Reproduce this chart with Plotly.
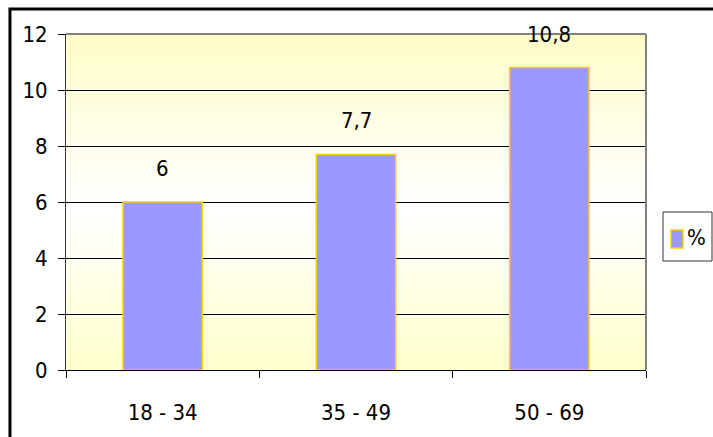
import base64
import plotly.graph_objects as go

# age groups and share (%)
categories = ["18 - 34", "35 - 49", "50 - 69"]
values = [6, 7.7, 10.8]
value_labels = ["6", "7,7", "10,8"]
series_name = "%"
y_ticks = [0, 2, 4, 6, 8, 10, 12]

FONT = "Liberation Sans Narrow, Arial Narrow, DejaVu Sans Condensed, sans-serif"
BAR_FILL = "#9999FF"
BAR_EDGE = "#FFCC00"

# pale yellow -> white -> pale yellow background for the plot area
svg = ('<svg xmlns="http://www.w3.org/2000/svg" width="100" height="100" '
       'viewBox="0 0 100 100" preserveAspectRatio="none">'
       '<defs><linearGradient id="g" x1="0" y1="0" x2="0" y2="1">'
       '<stop offset="0" stop-color="#FFFCC8"/>'
       '<stop offset="0.52" stop-color="#FFFFFF"/>'
       '<stop offset="1" stop-color="#FFFFCC"/>'
       '</linearGradient></defs>'
       '<rect width="100" height="100" fill="url(#g)"/></svg>')
bg_src = "data:image/svg+xml;base64," + base64.b64encode(svg.encode()).decode()

fig = go.Figure()
fig.add_trace(go.Bar(
    x=categories, y=values, name=series_name, width=0.41,
    marker=dict(color=BAR_FILL, line=dict(color=BAR_EDGE, width=1.5)),
    showlegend=False,
))

for cat, val, lab in zip(categories, values, value_labels):
    fig.add_annotation(x=cat, y=val, text=lab, showarrow=False,
                       yanchor="bottom", yshift=19,
                       font=dict(family=FONT, size=22, color="black"))

# legend box drawn by hand (plotly's own legend is too wide for the space)
fig.add_annotation(xref="paper", yref="paper", x=1.0879, y=0.393,
                   text=series_name, showarrow=False,
                   xanchor="center", yanchor="middle",
                   font=dict(family=FONT, size=22, color="black"))

fig.update_layout(
    width=713, height=437,
    margin=dict(l=66, r=67, t=34, b=67, autoexpand=False),
    paper_bgcolor="white",
    plot_bgcolor="rgba(0,0,0,0)",
    font=dict(family=FONT, size=22, color="black"),
    bargap=0.59,
    images=[dict(source=bg_src, xref="paper", yref="paper", x=0, y=1,
                 sizex=1, sizey=1, sizing="stretch", layer="below")],
    shapes=[
        # outer chart frame
        dict(type="rect", xref="paper", yref="paper", x0=-0.0966, y0=-0.3,
             x1=1.2, y1=1.0744, line=dict(color="black", width=3)),
        # top and right edge of plot area
        dict(type="line", xref="paper", yref="paper", x0=0, y0=1, x1=1, y1=1,
             line=dict(color="#808080", width=2)),
        dict(type="line", xref="paper", yref="paper", x0=1, y0=0, x1=1, y1=1,
             line=dict(color="#808080", width=2)),
        # legend frame and swatch
        dict(type="rect", xref="paper", yref="paper", x0=1.0293, y0=0.3244,
             x1=1.1138, y1=0.4702, line=dict(color="#333333", width=1),
             fillcolor="white"),
        dict(type="rect", xref="paper", yref="paper", x0=1.0431, y0=0.363,
             x1=1.0638, y1=0.4167, line=dict(color=BAR_EDGE, width=1.5),
             fillcolor=BAR_FILL),
    ],
)

fig.update_xaxes(
    showgrid=False, showline=True, linecolor="black", linewidth=1,
    ticks="outside", tickson="boundaries", ticklen=7, tickcolor="black",
    ticklabelstandoff=23, automargin=False,
)
fig.update_yaxes(
    range=[0, 12], tickvals=y_ticks, showgrid=True, gridcolor="black",
    gridwidth=1, showline=True, linecolor="#333333", linewidth=1,
    ticks="outside", ticklen=7, tickcolor="black", ticklabelstandoff=6,
    zeroline=False, automargin=False,
)

fig.write_html("out.html", config={"displayModeBar": False},
               post_script="document.body.style.margin='0';")
